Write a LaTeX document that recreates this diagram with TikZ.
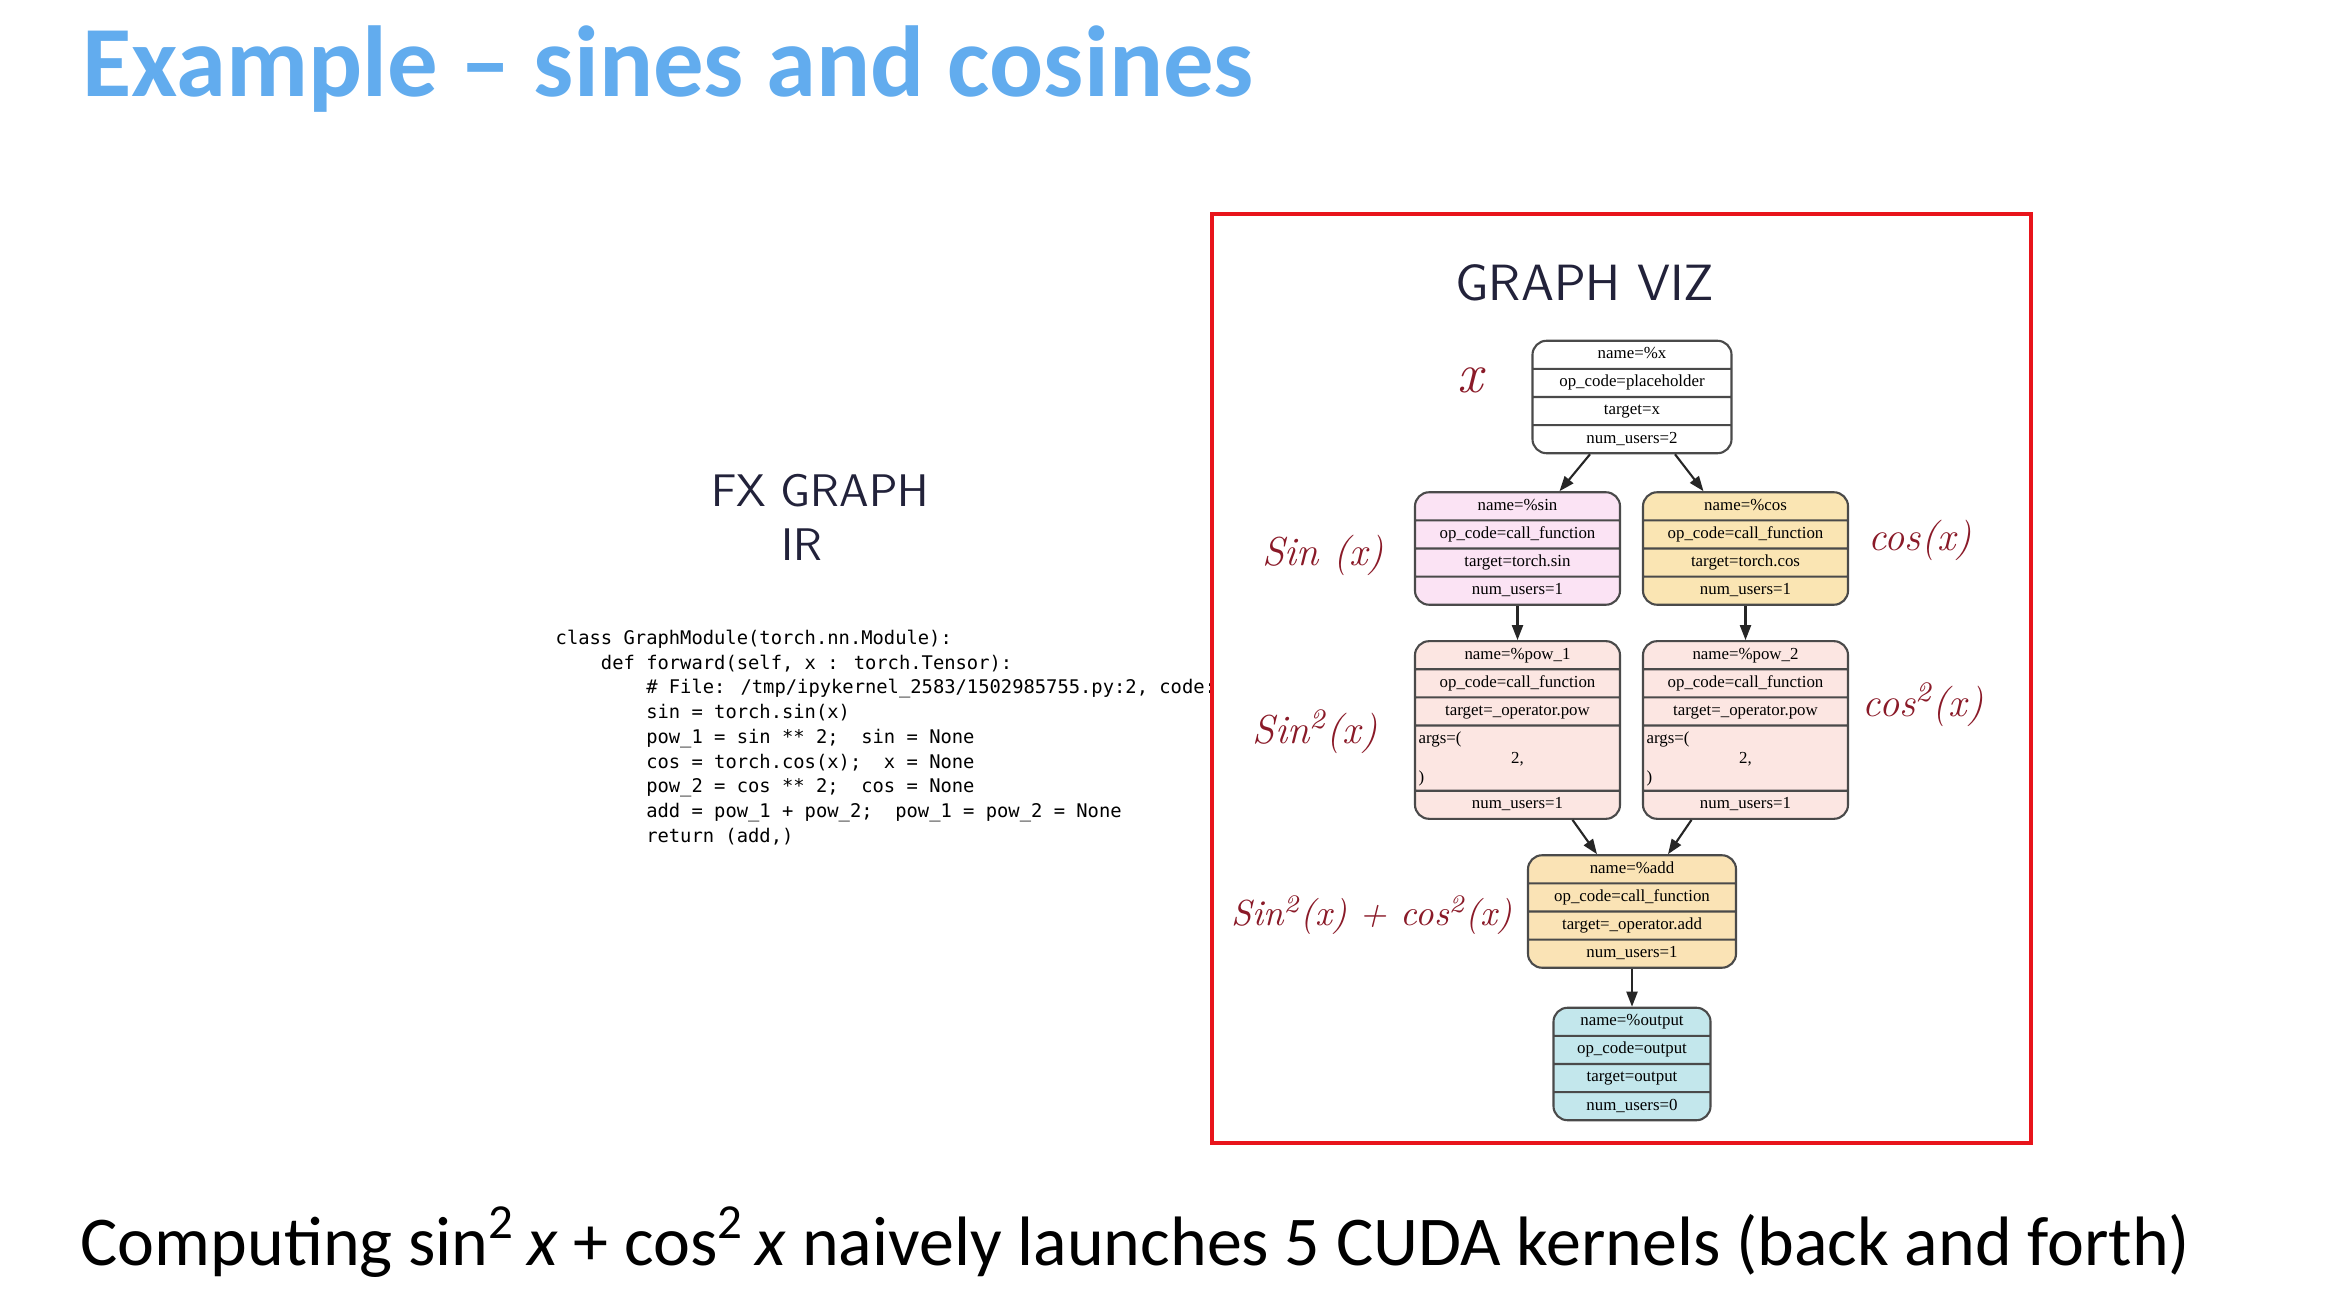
\documentclass[tikz,border=0pt]{standalone}
\usepackage{fontspec}
\newfontfamily\slidefont{Carlito}
\newfontfamily\codefont{DejaVu Sans Mono}
\newfontfamily\recfont{Liberation Serif}
\usetikzlibrary{arrows.meta,calc,positioning,shapes.multipart}
\definecolor{titleblue}{HTML}{62ACEE}
\definecolor{framered}{HTML}{E8141B}
\definecolor{inkred}{HTML}{8A1A28}
\definecolor{inkdark}{HTML}{22223A}
\definecolor{recline}{HTML}{4A4A4A}
\definecolor{sinfill}{HTML}{FBE3F4}
\definecolor{cosfill}{HTML}{FAE5B3}
\definecolor{powfill}{HTML}{FCE6E2}
\definecolor{addfill}{HTML}{FAE3B5}
\definecolor{outfill}{HTML}{C3E7EC}
\newcommand{\fld}[1]{\strut#1}
\newcommand{\codeind}[1]{\hspace*{#1\fontcharwd\font`x}}
\tikzset{
  record/.style={rectangle split,rectangle split parts=#1,draw=recline,line width=0.6pt,rounded corners=4pt,
    font=\recfont\fontsize{4.8}{5.6}\selectfont,align=center,inner xsep=1pt,inner ysep=0.9pt},
  flow/.style={-{Triangle[length=1.5mm,width=1.1mm]},line width=0.6pt,black!85},
  ink/.style={inkred,font=\itshape\fontsize{11.5}{13}\selectfont},
  sketch/.style={inkdark,font=\sffamily\fontsize{13}{16}\selectfont}
}
\begin{document}
\begin{tikzpicture}
\useasboundingbox (0,0) rectangle (23.52,-12.94);
% slide title and caption
\node[anchor=base west,inner sep=0,titleblue,font=\slidefont\bfseries\fontsize{28.7}{34}\selectfont] (title) at (0.82,-0.97) {Example – sines and cosines};
\node[anchor=base west,inner sep=0,font=\slidefont\fontsize{19.9}{24}\selectfont] (caption) at (0.80,-12.65) {Computing sin\textsuperscript{2}\,\textit{x} + cos\textsuperscript{2}\,\textit{x} naively launches 5 CUDA kernels (back and forth)};
% FX graph IR
\node[sketch] (fxlabel) at (8.20,-4.91) {FX GRAPH};
\node[sketch] (irlabel) at (8.02,-5.45) {IR};
\node[anchor=north west,inner sep=0,align=left,font=\codefont\fontsize{5.35}{7.03}\selectfont] (code) at (5.55,-6.265) {%
\strut class GraphModule(torch.nn.Module):\\
\codeind{4}def forward(self, x : torch.Tensor):\\
\codeind{8}\# File: /tmp/ipykernel\_2583/1502985755.py:2, code:\\
\codeind{8}sin = torch.sin(x)\\
\codeind{8}pow\_1 = sin ** 2;~~sin = None\\
\codeind{8}cos = torch.cos(x);~~x = None\\
\codeind{8}pow\_2 = cos ** 2;~~cos = None\\
\codeind{8}add = pow\_1 + pow\_2;~~pow\_1 = pow\_2 = None\\
\codeind{8}return (add,)};
% graphviz panel
\draw[framered,line width=1.3pt] (12.12,-2.14) rectangle (20.31,-11.43);
\node[sketch,font=\sffamily\fontsize{14.5}{17}\selectfont] (vizlabel) at (15.85,-2.83) {GRAPH VIZ};
\node[record=4,text width=1.92cm] (xin) at (16.32,-3.97) {\fld{name=\%x}\nodepart{two}\fld{op\_code=placeholder}\nodepart{three}\fld{target=x}\nodepart{four}\fld{num\_users=2}};
\node[record=4,text width=1.98cm,fill=sinfill] (sinf) at (15.175,-5.485) {\fld{name=\%sin}\nodepart{two}\fld{op\_code=call\_function}\nodepart{three}\fld{target=torch.sin}\nodepart{four}\fld{num\_users=1}};
\node[record=4,text width=1.98cm,fill=cosfill] (cosf) at (17.455,-5.485) {\fld{name=\%cos}\nodepart{two}\fld{op\_code=call\_function}\nodepart{three}\fld{target=torch.cos}\nodepart{four}\fld{num\_users=1}};
\node[record=5,text width=1.98cm,fill=powfill] (pow1) at (15.175,-7.30) {\fld{name=\%pow\_1}\nodepart{two}\fld{op\_code=call\_function}\nodepart{three}\fld{target=\_operator.pow}\nodepart{four}\strut\makebox[\hsize][l]{args=(}\\\makebox[\hsize][c]{2,}\\\makebox[\hsize][l]{)}\nodepart{five}\fld{num\_users=1}};
\node[record=5,text width=1.98cm,fill=powfill] (pow2) at (17.455,-7.30) {\fld{name=\%pow\_2}\nodepart{two}\fld{op\_code=call\_function}\nodepart{three}\fld{target=\_operator.pow}\nodepart{four}\strut\makebox[\hsize][l]{args=(}\\\makebox[\hsize][c]{2,}\\\makebox[\hsize][l]{)}\nodepart{five}\fld{num\_users=1}};
\node[record=4,text width=2.01cm,fill=addfill] (addf) at (16.32,-9.115) {\fld{name=\%add}\nodepart{two}\fld{op\_code=call\_function}\nodepart{three}\fld{target=\_operator.add}\nodepart{four}\fld{num\_users=1}};
\node[record=4,text width=1.50cm,fill=outfill] (outf) at (16.32,-10.64) {\fld{name=\%output}\nodepart{two}\fld{op\_code=output}\nodepart{three}\fld{target=output}\nodepart{four}\fld{num\_users=0}};
\draw[flow] ([xshift=-0.42cm]xin.south) -- ([xshift=0.42cm]sinf.north);
\draw[flow] ([xshift=0.43cm]xin.south) -- ([xshift=-0.42cm]cosf.north);
\draw[flow] (sinf.south) -- (pow1.north);
\draw[flow] (cosf.south) -- (pow2.north);
\draw[flow] ([xshift=0.55cm]pow1.south) -- ([xshift=-0.35cm]addf.north);
\draw[flow] ([xshift=-0.54cm]pow2.south) -- ([xshift=0.36cm]addf.north);
\draw[flow] (addf.south) -- (outf.north);
% handwritten notes
\node[ink,font=\itshape\fontsize{16}{18}\selectfont] (xnote) at (14.70,-3.80) {x};
\node[ink] (sinnote) at (13.23,-5.55) {Sin (x)};
\node[ink] (cosnote) at (19.20,-5.40) {cos(x)};
\node[ink] (sqsinnote) at (13.15,-7.32) {Sin\textsuperscript{2}(x)};
\node[ink] (sqcosnote) at (19.23,-7.05) {cos\textsuperscript{2}(x)};
\node[ink,font=\itshape\fontsize{10.3}{12}\selectfont] (sumnote) at (13.72,-9.15) {Sin\textsuperscript{2}(x) + cos\textsuperscript{2}(x)};
\end{tikzpicture}
\end{document}
